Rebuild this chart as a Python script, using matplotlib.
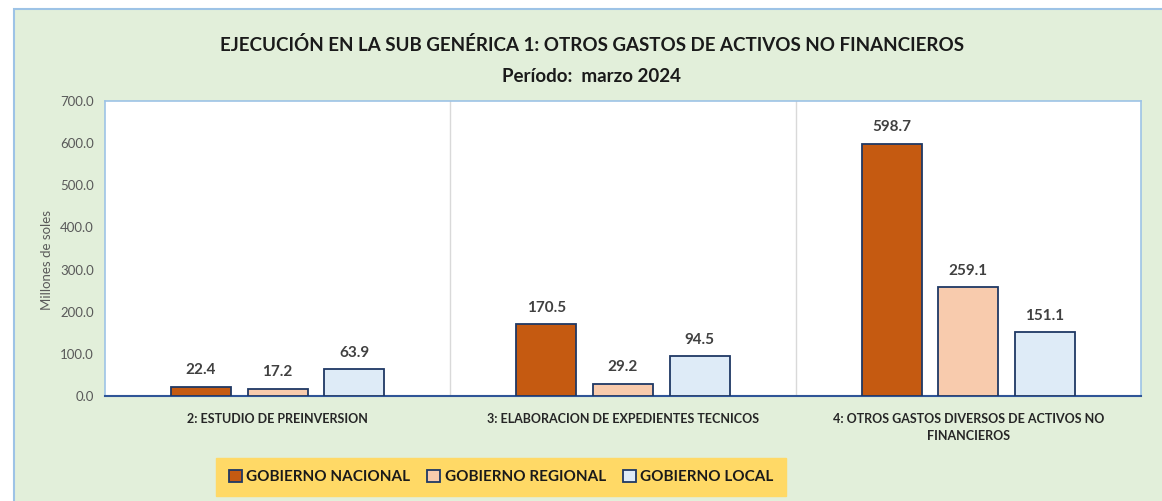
import matplotlib.pyplot as plt
import numpy as np
from matplotlib.patches import Rectangle, Patch

categories = ["2: ESTUDIO DE PREINVERSION",
              "3: ELABORACION DE EXPEDIENTES TECNICOS",
              "4: OTROS GASTOS DIVERSOS DE ACTIVOS NO\nFINANCIEROS"]
series_names = ["GOBIERNO NACIONAL", "GOBIERNO REGIONAL", "GOBIERNO LOCAL"]
nacional = [22.4, 170.5, 598.7]
regional = [17.2, 29.2, 259.1]
local = [63.9, 94.5, 151.1]
yticks = [0, 100, 200, 300, 400, 500, 600, 700]

colors = ["#C55A11", "#F8CBAD", "#DEEBF7"]
edge = "#1F3864"
plt.rcParams['font.family'] = ['Lato', 'DejaVu Sans']

fig = plt.figure(figsize=(11.62, 5.01), dpi=100)
fig.patch.set_facecolor("white")
# outer green chart area
fig.patches.append(Rectangle((14/1162, -0.05), 1.1, 1 - 9/501 + 0.05, transform=fig.transFigure,
                             facecolor="#E2EFDA", edgecolor="#9DC3E6", linewidth=1.5, zorder=-1))

ax = fig.add_axes([105/1162, 105/501, 1036/1162, 295/501])
ax.set_facecolor("white")

x = np.arange(len(categories))
w = 0.173
step = 0.222
for i, (vals, c) in enumerate(zip([nacional, regional, local], colors)):
    pos = x + (i - 1) * step
    ax.bar(pos, vals, width=w, color=c, edgecolor=edge, linewidth=1.3, zorder=3)
    for p, v in zip(pos, vals):
        ax.text(p, v + 22, f"{v:.1f}", ha="center", va="bottom", fontsize=11,
                fontweight="bold", color="#404040")

ax.set_xlim(-0.5, 2.5)
ax.set_ylim(0, 700)
ax.set_yticks(yticks)
ax.set_yticklabels([f"{t:.1f}" for t in yticks], color="#595959", fontsize=9.5)
ax.set_xticks(x)
ax.set_xticklabels(categories, fontsize=9, fontweight="bold", color="#262626", linespacing=1.5)
ax.tick_params(axis="both", length=0, pad=8)
ax.tick_params(axis="x", pad=12)
for b in [0.5, 1.5]:
    ax.axvline(b, color="#D9D9D9", linewidth=1, zorder=1)
for s in ["top", "right", "left"]:
    ax.spines[s].set_color("#9DC3E6")
    ax.spines[s].set_linewidth(1.2)
ax.spines["bottom"].set_color("#2F5597")
ax.spines["bottom"].set_linewidth(1.5)
ax.set_ylabel("Millones de soles", color="#595959", fontsize=9.5, labelpad=3)
ax.yaxis.set_label_coords(-0.05, 0.46)

fig.text(592/1162, 1 - 45/501, "EJECUCIÓN EN LA SUB GENÉRICA 1: OTROS GASTOS DE ACTIVOS NO FINANCIEROS",
         ha="center", va="center", fontsize=13.5, fontweight="bold", color="#1a1a1a")
fig.text(592/1162, 1 - 76/501, "Período:  marzo 2024", ha="center", va="center",
         fontsize=13.5, fontweight="bold", color="#1a1a1a")

handles = [Patch(facecolor=c, edgecolor=edge, linewidth=1.3) for c in colors]
leg = fig.legend(handles, series_names, loc="center", bbox_to_anchor=(501/1162, 1 - 477/501),
                 ncol=3, frameon=True, fancybox=False, handlelength=0.85,
                 handleheight=0.85, handletextpad=0.3, columnspacing=1.1, borderpad=0.8,
                 prop={'weight': 'bold', 'size': 11})
leg.get_frame().set_facecolor("#FFD966")
leg.get_frame().set_edgecolor("#FFD966")
leg.get_frame().set_alpha(1)
for t in leg.get_texts():
    t.set_color("#1a1a1a")

fig.savefig("out.png", dpi=100, facecolor=fig.get_facecolor())
